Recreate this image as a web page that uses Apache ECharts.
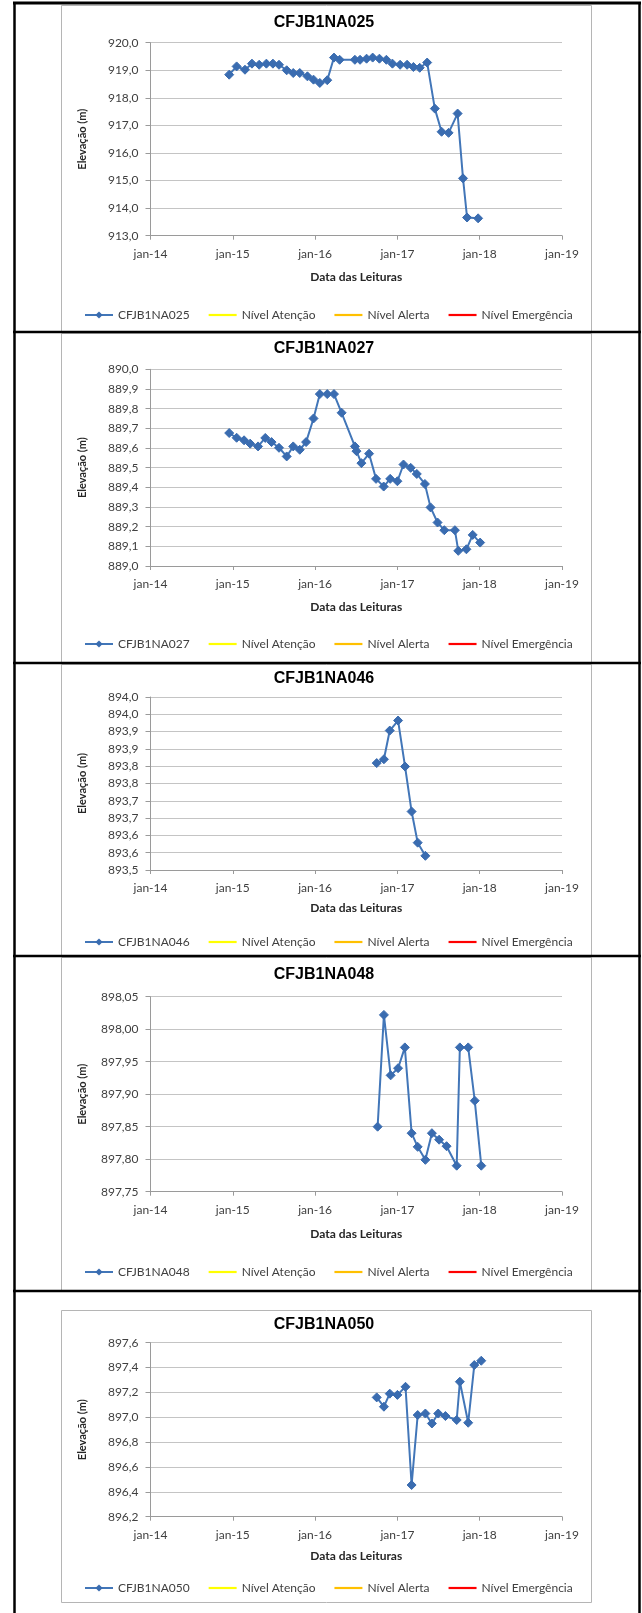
<!DOCTYPE html>
<html>
<head>
<meta charset="utf-8">
<script src="https://cdn.jsdelivr.net/npm/echarts@6/dist/echarts.min.js"></script>
<style>
html,body{margin:0;padding:0;background:#fff;}
#chart{width:642px;height:1613px;}
</style>
</head>
<body>
<div id="chart"></div>
<script>
// ---------- data ----------
const xTickLabels = ['jan-14','jan-15','jan-16','jan-17','jan-18','jan-19'];
const legendNames = ['Nível Atenção','Nível Alerta','Nível Emergência'];

const titleNA025 = 'CFJB1NA025';
const datesNA025 = ['2014-12-16','2015-01-18','2015-02-24','2015-03-27','2015-04-28','2015-05-30','2015-06-28','2015-07-25','2015-08-28','2015-09-26','2015-10-25','2015-11-28','2015-12-25','2016-01-22','2016-02-24','2016-03-25','2016-04-19','2016-06-26','2016-07-19','2016-08-17','2016-09-13','2016-10-13','2016-11-13','2016-12-10','2017-01-13','2017-02-13','2017-03-13','2017-04-10','2017-05-13','2017-06-16','2017-07-16','2017-08-16','2017-09-25','2017-10-19','2017-11-06','2017-12-25'];
const valuesNA025 = [918.84,919.14,919.02,919.24,919.20,919.24,919.24,919.20,919.00,918.90,918.90,918.78,918.66,918.54,918.64,919.46,919.38,919.38,919.38,919.42,919.46,919.42,919.38,919.24,919.20,919.20,919.12,919.09,919.28,917.61,916.77,916.73,917.43,915.08,913.66,913.63];
const yTicksNA025 = ['913,0','914,0','915,0','916,0','917,0','918,0','919,0','920,0'];

const titleNA027 = 'CFJB1NA027';
const datesNA027 = ['2014-12-16','2015-01-18','2015-02-20','2015-03-19','2015-04-23','2015-05-25','2015-06-22','2015-07-25','2015-08-28','2015-09-26','2015-10-25','2015-11-22','2015-12-25','2016-01-22','2016-02-24','2016-03-25','2016-04-28','2016-06-26','2016-07-03','2016-07-25','2016-08-28','2016-09-28','2016-11-01','2016-11-30','2017-01-01','2017-01-28','2017-03-01','2017-03-28','2017-05-03','2017-05-28','2017-06-28','2017-07-28','2017-09-13','2017-09-28','2017-11-03','2017-12-01','2018-01-03'];
const valuesNA027 = [889.676,889.652,889.639,889.622,889.608,889.651,889.630,889.601,889.557,889.608,889.591,889.630,889.750,889.874,889.874,889.874,889.779,889.608,889.584,889.523,889.571,889.443,889.404,889.443,889.431,889.516,889.499,889.468,889.417,889.298,889.221,889.182,889.182,889.077,889.085,889.158,889.119];
const yTicksNA027 = ['889,0','889,1','889,2','889,3','889,4','889,5','889,6','889,7','889,8','889,9','890,0'];

const titleNA046 = 'CFJB1NA046';
const datesNA046 = ['2016-10-01','2016-11-02','2016-11-28','2017-01-04','2017-02-04','2017-03-05','2017-04-01','2017-05-05'];
const valuesNA046 = [893.809,893.820,893.903,893.932,893.799,893.669,893.579,893.541];
const yTicksNA046 = ['893,5','893,6','893,6','893,7','893,7','893,8','893,8','893,9','893,9','894,0','894,0'];

const titleNA048 = 'CFJB1NA048';
const datesNA048 = ['2016-10-05','2016-11-02','2016-12-02','2017-01-04','2017-02-03','2017-03-05','2017-04-01','2017-05-05','2017-06-03','2017-07-05','2017-08-07','2017-09-21','2017-10-05','2017-11-11','2017-12-10','2018-01-08'];
const valuesNA048 = [897.85,898.022,897.929,897.94,897.972,897.84,897.819,897.799,897.84,897.83,897.82,897.79,897.972,897.972,897.89,897.79];
const yTicksNA048 = ['897,75','897,80','897,85','897,90','897,95','898,00','898,05'];

const titleNA050 = 'CFJB1NA050';
const datesNA050 = ['2016-10-01','2016-11-02','2016-11-28','2017-01-01','2017-02-06','2017-03-05','2017-04-01','2017-05-05','2017-06-03','2017-07-01','2017-08-02','2017-09-21','2017-10-05','2017-11-11','2017-12-08','2018-01-08'];
const valuesNA050 = [897.16,897.085,897.19,897.18,897.245,896.455,897.018,897.03,896.95,897.03,897.01,896.978,897.286,896.956,897.42,897.455];
const yTicksNA050 = ['896,2','896,4','896,6','896,8','897,0','897,2','897,4','897,6'];

// ---------- layout ----------
const panels = [
  {title:titleNA025, dates:datesNA025, values:valuesNA025, ticks:yTicksNA025, min:913,   max:920,    interval:1,
   titleY:23,  top:42.7,  bottom:235.7,  nameGap:41, legendY:316},
  {title:titleNA027, dates:datesNA027, values:valuesNA027, ticks:yTicksNA027, min:889,   max:890,    interval:0.1,
   titleY:349, top:369.3, bottom:566,    nameGap:41, legendY:645},
  {title:titleNA046, dates:datesNA046, values:valuesNA046, ticks:yTicksNA046, min:893.5, max:894,    interval:0.05,
   titleY:679, top:697,   bottom:870,    nameGap:38, legendY:943},
  {title:titleNA048, dates:datesNA048, values:valuesNA048, ticks:yTicksNA048, min:897.75,max:898.05, interval:0.05,
   titleY:975, top:996.7, bottom:1191.7, nameGap:42, legendY:1273},
  {title:titleNA050, dates:datesNA050, values:valuesNA050, ticks:yTicksNA050, min:896.2, max:897.6,  interval:0.2,
   titleY:1325,top:1342.7,bottom:1516.7, nameGap:39, legendY:1589}
];

function toYear(s){
  const p = s.split('-').map(Number);
  const a = Date.UTC(p[0],0,1), b = Date.UTC(p[0]+1,0,1);
  return p[0] + (Date.UTC(p[0],p[1]-1,p[2]) - a)/(b - a);
}

const FONT = 'Lato, "Liberation Sans", sans-serif';
const PLOT_LEFT = 150.5, PLOT_W = 411.5;
const lineBlue = '#4276b8';
const extraColors = ['#ffff00','#ffc000','#ff0000'];
const lineIcon = 'path://M0,0L28,0L28,2.2L0,2.2Z';

const option = {
  animation:false,
  backgroundColor:'#ffffff',
  title:[], grid:[], xAxis:[], yAxis:[], legend:[], series:[], graphic:[]
};

panels.forEach((p,i)=>{
  option.title.push({
    text:p.title, left:324, top:p.titleY, padding:0,
    textAlign:'center', textVerticalAlign:'middle',
    textStyle:{fontFamily:'"Liberation Sans", Arial, sans-serif', fontWeight:'bold', fontSize:16, color:'#000'}
  });
  option.grid.push({left:PLOT_LEFT, top:p.top, width:PLOT_W, height:p.bottom-p.top});
  option.xAxis.push({
    type:'value', gridIndex:i, min:2014, max:2019, interval:1,
    name:'Data das Leituras', nameLocation:'middle', nameGap:p.nameGap,
    nameTextStyle:{fontFamily:FONT, fontWeight:'bold', fontSize:12, color:'#262626', verticalAlign:'middle'},
    axisLine:{show:true, lineStyle:{color:'#9a9a9a', width:1}},
    axisTick:{show:true, length:4, lineStyle:{color:'#9a9a9a'}},
    splitLine:{show:false},
    axisLabel:{fontFamily:FONT, fontSize:12, color:'#404040', margin:12,
      formatter:(v)=> xTickLabels[Math.round(v-2014)]}
  });
  option.yAxis.push({
    type:'value', gridIndex:i, min:p.min, max:p.max, interval:p.interval,
    name:'Elevação (m)', nameLocation:'middle', nameGap:68, nameRotate:90,
    nameTextStyle:{fontFamily:FONT, fontWeight:'bold', fontSize:11, color:'#262626', verticalAlign:'middle'},
    axisLine:{show:true, lineStyle:{color:'#9a9a9a', width:1}},
    axisTick:{show:true, length:5, lineStyle:{color:'#9a9a9a'}},
    splitLine:{show:true, lineStyle:{color:'#c4c4c4', width:1}},
    axisLabel:{fontFamily:FONT, fontSize:12, color:'#404040', margin:12,
      formatter:(v)=> p.ticks[Math.round((v-p.min)/p.interval)]}
  });
  option.legend.push({
    left:84, top:p.legendY-7, padding:0, itemGap:19, itemWidth:28, itemHeight:9,
    data:[{name:p.title}].concat(legendNames.map(n=>({name:n, icon:lineIcon}))),
    textStyle:{fontFamily:FONT, fontSize:12, color:'#404040'},
    selectedMode:false
  });
  option.series.push({
    type:'line', name:p.title, xAxisIndex:i, yAxisIndex:i,
    data:p.dates.map((d,k)=>[toYear(d), p.values[k]]),
    symbol:'diamond', symbolSize:9, showSymbol:true,
    lineStyle:{color:lineBlue, width:2},
    itemStyle:{color:'#3a6cb0', borderColor:'#3a6cb0'}
  });
  legendNames.forEach((n,k)=>{
    option.series.push({
      type:'line', name:n, xAxisIndex:i, yAxisIndex:i, data:[],
      symbol:'none', lineStyle:{color:extraColors[k], width:2}, itemStyle:{color:extraColors[k]}
    });
  });
});

// chart frames (gray) and table borders (black)
const frames = [[5,331],[333,662],[664,955],[957,1290],[1310,1602]];
frames.forEach(f=>{
  option.graphic.push({type:'rect', silent:true, z:-1,
    shape:{x:61.5, y:f[0]+0.5, width:530, height:f[1]-f[0]},
    style:{fill:null, stroke:'#b5b5b5', lineWidth:1}});
});
const hLines = [3, 332, 663, 956, 1291];
hLines.forEach((y,k)=>{
  option.graphic.push({type:'line', silent:true, z:10,
    shape:{x1:13, y1:y, x2:641, y2:y}, style:{stroke:'#000', lineWidth:k===0?3:2.5}});
});
option.graphic.push({type:'line', silent:true, z:10, shape:{x1:14.5, y1:2, x2:14.5, y2:1613}, style:{stroke:'#000', lineWidth:2.5}});
option.graphic.push({type:'line', silent:true, z:10, shape:{x1:639.5, y1:2, x2:639.5, y2:1613}, style:{stroke:'#000', lineWidth:2.5}});

const chart = echarts.init(document.getElementById('chart'), null, {renderer:'canvas'});
chart.setOption(option);
</script>
</body>
</html>
